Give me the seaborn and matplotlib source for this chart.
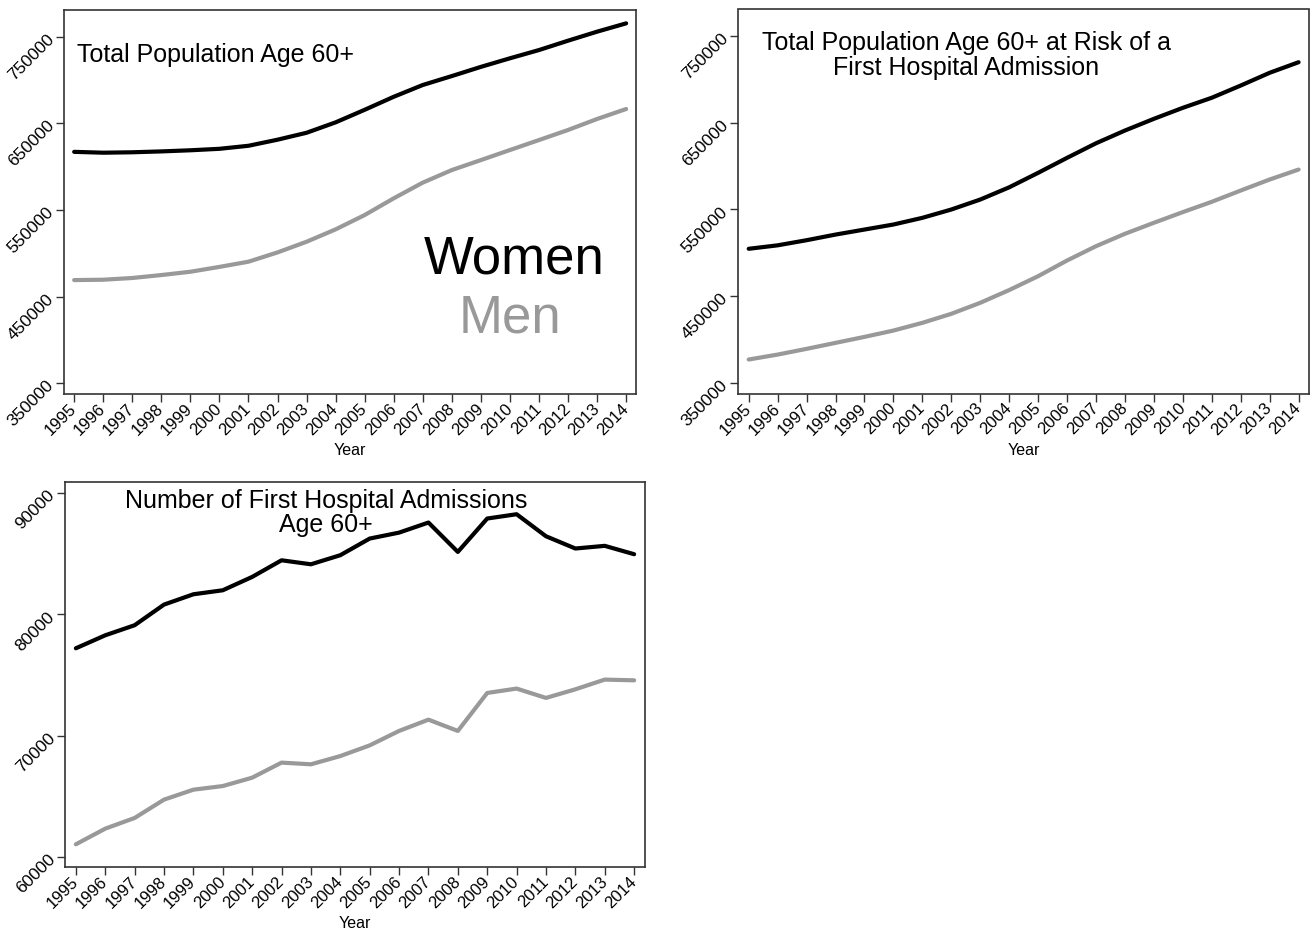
import pandas as pd
import numpy as np
import matplotlib
matplotlib.use('Agg')
import matplotlib.pyplot as plt
import seaborn as sns

years = list(range(1995, 2015))

# Total population age 60+
pop_women = [617000, 616000, 616500, 617500, 618800, 620500, 624000, 631000, 639000, 651000,
             665500, 680500, 694100, 704400, 715000, 724900, 734400, 745200, 755600, 765200]
pop_men = [469100, 469500, 471500, 474900, 478700, 484300, 490300, 501000, 513300, 527600,
           544100, 563400, 581500, 596000, 607500, 619100, 630600, 642200, 654900, 666400]

# Population at risk of a first hospital admission
risk_women = [504600, 508600, 514500, 521000, 526800, 532600, 540300, 549900, 561400, 575500,
              592200, 609500, 626300, 641000, 654500, 667200, 678800, 692900, 707600, 719800]
risk_men = [376900, 382600, 389200, 396100, 403000, 410300, 419200, 429600, 442300, 457000,
            473000, 491100, 507600, 521900, 534600, 546900, 558800, 571800, 584500, 596000]

# Number of first hospital admissions
adm_women = [77200, 78270, 79100, 80800, 81650, 81980, 83080, 84450, 84120, 84870,
             86240, 86730, 87560, 85140, 87890, 88245, 86430, 85420, 85640, 84950]
adm_men = [61050, 62340, 63220, 64730, 65550, 65850, 66540, 67780, 67640, 68320,
           69200, 70390, 71320, 70390, 73520, 73880, 73110, 73820, 74620, 74560]

pop_ticks = [350000, 450000, 550000, 650000, 750000]
adm_ticks = [60000, 70000, 80000, 90000]

sns.set_style('ticks')
plt.rcParams['font.family'] = ['Liberation Sans', 'DejaVu Sans']
plt.rcParams['text.color'] = 'black'
plt.rcParams['axes.labelcolor'] = 'black'
plt.rcParams['xtick.color'] = 'black'
plt.rcParams['ytick.color'] = 'black'

palette = {'Women': 'black', 'Men': '#999999'}
W, H = 1314, 931


def long_df(women, men):
    return pd.DataFrame({
        'Year': years * 2,
        'Value': women + men,
        'Sex': ['Women'] * len(years) + ['Men'] * len(years),
    })


def make_axes(fig, left, top, right, bottom):
    return fig.add_axes([left / W, (H - bottom) / H, (right - left) / W, (bottom - top) / H])


def style_axes(ax, yticks, ylim, xlim):
    ax.set_xlim(*xlim)
    ax.set_ylim(*ylim)
    ax.set_xticks(years)
    ax.set_xticklabels([str(y) for y in years], rotation=45, ha='right', va='center',
                       rotation_mode='anchor', fontsize=12)
    ax.set_yticks(yticks)
    ax.set_yticklabels([str(t) for t in yticks], rotation=45, ha='right', va='center',
                       rotation_mode='anchor', fontsize=12.5)
    ax.tick_params(axis='both', length=6, width=1, color='#333333', pad=3)
    for sp in ax.spines.values():
        sp.set_visible(True)
        sp.set_color('#333333')
        sp.set_linewidth(1.2)
    ax.set_xlabel('Year', fontsize=11.5, labelpad=3.5)
    ax.set_ylabel('')


fig = plt.figure(figsize=(13.14, 9.31), dpi=100)

ax1 = make_axes(fig, 64, 10, 636, 394)
ax2 = make_axes(fig, 738, 9.5, 1309, 393.5)
ax3 = make_axes(fig, 65, 482, 645, 867)

sns.lineplot(data=long_df(pop_women, pop_men), x='Year', y='Value', hue='Sex',
             palette=palette, linewidth=3, legend=False, ax=ax1)
sns.lineplot(data=long_df(risk_women, risk_men), x='Year', y='Value', hue='Sex',
             palette=palette, linewidth=3, legend=False, ax=ax2)
sns.lineplot(data=long_df(adm_women, adm_men), x='Year', y='Value', hue='Sex',
             palette=palette, linewidth=3, legend=False, ax=ax3)

style_axes(ax1, pop_ticks, (337700, 780600), (1994.65, 2014.34))
style_axes(ax2, pop_ticks, (337700, 780600), (1994.63, 2014.36))
style_axes(ax3, adm_ticks, (59180, 90900), (1994.63, 2014.37))

ax1.text(0.022, 0.883, 'Total Population Age 60+', transform=ax1.transAxes,
         ha='left', va='center', fontsize=18)
ax1.text(0.787, 0.35, 'Women', transform=ax1.transAxes, ha='center', va='center',
         fontsize=38, color='black')
ax1.text(0.78, 0.197, 'Men', transform=ax1.transAxes, ha='center', va='center',
         fontsize=38, color='#999999')

ax2.text(0.40, 0.88, 'Total Population Age 60+ at Risk of a\nFirst Hospital Admission',
         transform=ax2.transAxes, ha='center', va='center', fontsize=18, linespacing=1.02)

ax3.text(0.45, 0.92, 'Number of First Hospital Admissions\nAge 60+',
         transform=ax3.transAxes, ha='center', va='center', fontsize=18, linespacing=1.02)

fig.savefig('out.png', dpi=100)
